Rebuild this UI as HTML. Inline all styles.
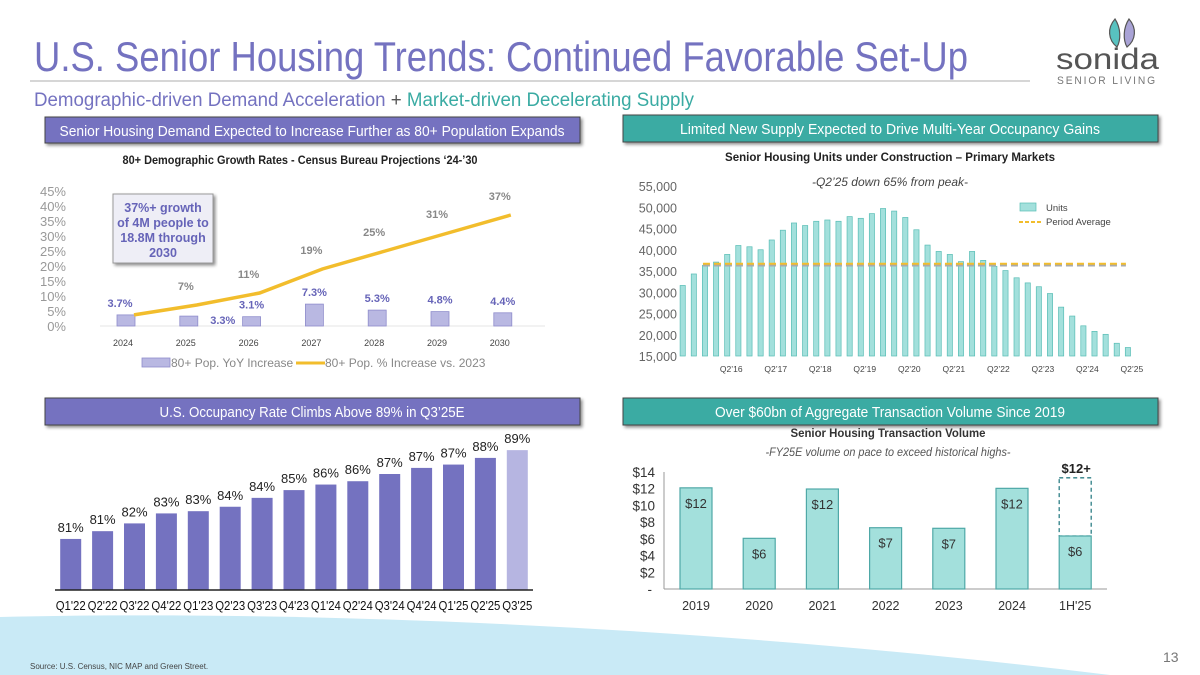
<!DOCTYPE html>
<html><head><meta charset="utf-8">
<style>
html,body{margin:0;padding:0;background:#fff;}
svg{display:block;font-family:"Liberation Sans",sans-serif;}
</style></head>
<body>
<svg id="s" width="1200" height="675" viewBox="0 0 1200 675" xmlns="http://www.w3.org/2000/svg">
<defs>
<filter id="sh" x="-5%" y="-20%" width="110%" height="160%"><feDropShadow dx="2" dy="2" stdDeviation="1.5" flood-color="#000" flood-opacity="0.45"/></filter>
</defs>
<path d="M0,617 C300,610 700,625 1110,675 L0,675 Z" fill="#c9eaf6"/>
<text x="34" y="71" font-size="42" fill="#7472c0" textLength="934" lengthAdjust="spacingAndGlyphs">U.S. Senior Housing Trends: Continued Favorable Set-Up</text>
<line x1="30" y1="81" x2="1030" y2="81" stroke="#c8c8c8" stroke-width="1.5"/>
<g>
<path d="M1115,19 C1107,28 1108,40 1117,47 C1121,40 1121,28 1115,19Z" fill="#58c2c0" stroke="#555" stroke-width="1.2"/>
<path d="M1129,19 C1137,28 1136,40 1127,47 C1123,40 1123,28 1129,19Z" fill="#a9a3d6" stroke="#555" stroke-width="1.2"/>
<text x="1056" y="69" font-size="30" fill="#555" textLength="103" lengthAdjust="spacingAndGlyphs">sonida</text>
<text x="1057" y="84" font-size="11" fill="#777" textLength="100" lengthAdjust="spacingAndGlyphs" letter-spacing="2">SENIOR LIVING</text>
</g>
<text x="34" y="106" font-size="19" textLength="660" lengthAdjust="spacingAndGlyphs"><tspan fill="#7472c0">Demographic-driven Demand Acceleration</tspan><tspan fill="#555"> + </tspan><tspan fill="#3aaba3">Market-driven Decelerating Supply</tspan></text>

<g filter="url(#sh)"><rect x="45" y="117" width="535" height="26" fill="#7472c0" stroke="#444" stroke-width="1"/></g>
<text x="312" y="136" font-size="14.5" fill="#fff" text-anchor="middle" textLength="505" lengthAdjust="spacingAndGlyphs">Senior Housing Demand Expected to Increase Further as 80+ Population Expands</text>
<g filter="url(#sh)"><rect x="623" y="115" width="535" height="27" fill="#3aaba3" stroke="#444" stroke-width="1"/></g>
<text x="890" y="134" font-size="14.5" fill="#fff" text-anchor="middle" textLength="420" lengthAdjust="spacingAndGlyphs">Limited New Supply Expected to Drive Multi-Year Occupancy Gains</text>
<g filter="url(#sh)"><rect x="45" y="398" width="535" height="27" fill="#7472c0" stroke="#444" stroke-width="1"/></g>
<text x="312" y="417" font-size="15" fill="#fff" text-anchor="middle" textLength="305" lengthAdjust="spacingAndGlyphs">U.S. Occupancy Rate Climbs Above 89% in Q3’25E</text>
<g filter="url(#sh)"><rect x="623" y="398" width="535" height="27" fill="#3aaba3" stroke="#444" stroke-width="1"/></g>
<text x="890" y="417" font-size="15" fill="#fff" text-anchor="middle" textLength="350" lengthAdjust="spacingAndGlyphs">Over $60bn of Aggregate Transaction Volume Since 2019</text>

<text x="300" y="164" font-size="12" font-weight="bold" fill="#222" text-anchor="middle" textLength="355" lengthAdjust="spacingAndGlyphs">80+ Demographic Growth Rates - Census Bureau Projections ‘24-’30</text>
<text x="890" y="161" font-size="12" font-weight="bold" fill="#222" text-anchor="middle" textLength="330" lengthAdjust="spacingAndGlyphs">Senior Housing Units under Construction – Primary Markets</text>
<text x="890" y="186" font-size="12" font-style="italic" fill="#444" text-anchor="middle">-Q2’25 down 65% from peak-</text>
<text x="888" y="437" font-size="12" font-weight="bold" fill="#333" text-anchor="middle" textLength="195" lengthAdjust="spacingAndGlyphs">Senior Housing Transaction Volume</text>
<text x="888" y="456" font-size="12" font-style="italic" fill="#555" text-anchor="middle" textLength="245" lengthAdjust="spacingAndGlyphs">-FY25E volume on pace to exceed historical highs-</text>

<g id="c1"></g><g id="c2"></g><g id="c3"></g><g id="c4"></g>

<g filter="url(#sh)"><rect x="113" y="194" width="100" height="69" fill="#eeeef6" stroke="#999" stroke-width="1"/></g>
<g font-size="12.5" font-weight="bold" fill="#6664b8" text-anchor="middle">
<text x="163" y="212">37%+ growth</text><text x="163" y="227">of 4M people to</text><text x="163" y="242">18.8M through</text><text x="163" y="257">2030</text></g>

<text x="30" y="669" font-size="8" fill="#444">Source: U.S. Census, NIC MAP and Green Street.</text>
<text x="1163" y="662" font-size="14" fill="#777">13</text>
</svg>
<script>
const NS="http://www.w3.org/2000/svg";
function mk(p,tag,a,txt){const e=document.createElementNS(NS,tag);for(const k in a)e.setAttribute(k,a[k]);if(txt!==undefined)e.textContent=txt;p.appendChild(e);return e;}

// Chart 1: demographic
const demoYears=["2024","2025","2026","2027","2028","2029","2030"];
const demoYoY=[3.7,3.3,3.1,7.3,5.3,4.8,4.4];
const demoCum=[3.7,7,11,19,25,31,37];
const demoYoYLabels=["3.7%","3.3%","3.1%","7.3%","5.3%","4.8%","4.4%"];
const demoCumLabels=["","7%","11%","19%","25%","31%","37%"];
const demoTicks=[0,5,10,15,20,25,30,35,40,45];
// Chart 2: units
const unitQuarters=["Q2'15","Q3'15","Q4'15","Q1'16","Q2'16","Q3'16","Q4'16","Q1'17","Q2'17","Q3'17","Q4'17","Q1'18","Q2'18","Q3'18","Q4'18","Q1'19","Q2'19","Q3'19","Q4'19","Q1'20","Q2'20","Q3'20","Q4'20","Q1'21","Q2'21","Q3'21","Q4'21","Q1'22","Q2'22","Q3'22","Q4'22","Q1'23","Q2'23","Q3'23","Q4'23","Q1'24","Q2'24","Q3'24","Q4'24","Q1'25","Q2'25"];
const unitValues=[31600,34300,36300,37100,38900,41000,40700,40000,42300,44600,46300,45700,46700,47000,46700,47800,47400,48500,49700,49100,47600,44700,41100,39600,38900,37200,39600,37500,36100,35100,33400,32200,31300,29700,26500,24400,22100,20800,20100,18000,17000];
const unitAverage=[36700];
const unitTicks=[15000,20000,25000,30000,35000,40000,45000,50000,55000];
const unitTickLabels=["Q2'16","Q2'17","Q2'18","Q2'19","Q2'20","Q2'21","Q2'22","Q2'23","Q2'24","Q2'25"];
// Chart 3: occupancy
const occQuarters=["Q1'22","Q2'22","Q3'22","Q4'22","Q1'23","Q2'23","Q3'23","Q4'23","Q1'24","Q2'24","Q3'24","Q4'24","Q1'25","Q2'25","Q3'25"];
const occValues=[81.0,81.7,82.4,83.3,83.5,83.9,84.7,85.4,85.9,86.2,86.85,87.4,87.7,88.3,89.0];
const occLabels=["81%","81%","82%","83%","83%","84%","84%","85%","86%","86%","87%","87%","87%","88%","89%"];
// Chart 4: transactions
const txYears=["2019","2020","2021","2022","2023","2024","1H'25"];
const txValues=[12.1,6.06,11.96,7.33,7.26,12.04,6.34];
const txLabels=["$12","$6","$12","$7","$7","$12","$6"];
const txEstimate=[13.3];
const txTicks=[0,2,4,6,8,10,12,14];

// ---- chart 1
(function(){
 const g=document.getElementById('c1');
 const y=v=>326-v*3, x=i=>126+i*62.8;
 demoTicks.forEach(t=>{const e=mk(g,'text',{x:66,y:y(t)+5,'font-size':13,fill:'#999','text-anchor':'end'},t+'%');
 
 });
 mk(g,'line',{x1:100,y1:326,x2:545,y2:326,stroke:'#e4e4e4'});
 demoYoY.forEach((v,i)=>{const r=mk(g,'rect',{x:x(i)-9,y:y(v),width:18,height:v*3,fill:'#b9b8e2',stroke:'#8f8dcc','stroke-width':0.8});
 
 
 const l=mk(g,'text',{x:i===1?x(i)+34:x(i)+(i==0?-6:0),y:i===1?y(v)+8:y(v)-8,'font-size':11,'font-weight':'bold',fill:'#6664b8','text-anchor':'middle'},demoYoYLabels[i]);
 
 
 const xl=mk(g,'text',{x:x(i)-3,y:346,'font-size':9,fill:'#444','text-anchor':'middle'},demoYears[i]);
 
 });
 const pts=demoCum.map((v,i)=>(x(i)+8)+','+y(v)).join(' ');
 const pl=mk(g,'polyline',{points:pts,fill:'none',stroke:'#f2bd2c','stroke-width':3.5});
 
 
 demoCum.forEach((v,i)=>{if(!demoCumLabels[i])return;const t=mk(g,'text',{x:x(i)-3,y:y(v)-15,'font-size':11,'font-weight':'bold',fill:'#888','text-anchor':'middle'},demoCumLabels[i]);
 
 });
 const ls=mk(g,'rect',{x:142,y:358,width:28,height:9,fill:'#b9b8e2',stroke:'#8f8dcc','stroke-width':0.8});
 
 
 const lt=mk(g,'text',{x:171,y:367,'font-size':12,fill:'#888'},'80+ Pop. YoY Increase');
 
 
 const ll=mk(g,'line',{x1:296,y1:363,x2:325,y2:363,stroke:'#f2bd2c','stroke-width':3});
 
 
 const lt2=mk(g,'text',{x:325,y:367,'font-size':12,fill:'#888'},'80+ Pop. % Increase vs. 2023');
 
 
})();

// ---- chart 2
(function(){
 const g=document.getElementById('c2');
 const y=v=>356-(v-15000)*170/40000, x=i=>682.7+i*11.13;
 unitTicks.forEach(t=>{const e=mk(g,'text',{x:677,y:y(t)+5,'font-size':12.5,fill:'#666','text-anchor':'end'},t.toLocaleString('en-US'));
 
 });
 unitValues.forEach((v,i)=>{const r=mk(g,'rect',{x:x(i)-2.6,y:y(v),width:5.2,height:356-y(v),fill:'#a3e0dc',stroke:'#58bdb5','stroke-width':0.7});
 
 });
 const ay=y(unitAverage[0]);
 const a1=mk(g,'line',{x1:x(2)-2,y1:ay+1.5,x2:x(40)-2,y2:ay+1.5,stroke:'#aaa','stroke-width':2.5,'stroke-dasharray':'7,4'});
 
 
 const a2=mk(g,'line',{x1:x(2)-2,y1:ay,x2:x(40)-2,y2:ay,stroke:'#f2bd2c','stroke-width':2,'stroke-dasharray':'7,4'});
 
 
 unitTickLabels.forEach((l,k)=>{const i=unitQuarters.indexOf(l);const t=mk(g,'text',{x:x(i)+4,y:372,'font-size':8.5,fill:'#444','text-anchor':'middle'},l.replace("'","’"));
 
 });
 const ls=mk(g,'rect',{x:1020,y:203,width:16,height:8,fill:'#a3e0dc',stroke:'#58bdb5','stroke-width':0.7});
 
 
 const lt=mk(g,'text',{x:1046,y:211,'font-size':9.5,fill:'#444'},'Units');
 
 
 const ld=mk(g,'line',{x1:1019,y1:222,x2:1041,y2:222,stroke:'#f2bd2c','stroke-width':2,'stroke-dasharray':'4,2'});
 
 
 const lt2=mk(g,'text',{x:1046,y:225,'font-size':9.5,fill:'#444'},'Period Average');
 
 
})();

// ---- chart 3
(function(){
 const g=document.getElementById('c3');
 const base=590, y=v=>base-(v-76.4)*11.1, x=i=>70.7+i*31.9;
 occValues.forEach((v,i)=>{const last=i===occValues.length-1;
 const r=mk(g,'rect',{x:x(i)-10.5,y:y(v),width:21,height:base-y(v),fill:last?'#b6b5e1':'#7472c0'});
 
 
 const t=mk(g,'text',{x:x(i),y:y(v)-7,'font-size':13,fill:'#222','text-anchor':'middle'},occLabels[i]);
 
 
 const xl=mk(g,'text',{x:x(i),y:610,'font-size':12.5,fill:'#111','text-anchor':'middle',textLength:30,lengthAdjust:'spacingAndGlyphs'},occQuarters[i]);
 
 });
 const b=mk(g,'line',{x1:55,y1:base,x2:533,y2:base,stroke:'#222','stroke-width':1.5});
 
 
})();

// ---- chart 4
(function(){
 const g=document.getElementById('c4');
 const base=589, k=8.36, y=v=>base-v*k, x=i=>696+i*63.2;
 txTicks.forEach(t=>{const e=mk(g,'text',{x:t===0?652:655,y:y(t)+5,'font-size':13.5,fill:'#333','text-anchor':'end'},t===0?'-':'$'+t);
 
 });
 mk(g,'line',{x1:664,y1:472,x2:664,y2:base,stroke:'#999'});
 mk(g,'line',{x1:664,y1:base,x2:1107,y2:base,stroke:'#999'});
 const ei=txValues.length-1;
 const d=mk(g,'rect',{x:x(ei)-16,y:y(txEstimate[0]),width:32,height:(txEstimate[0]-txValues[ei])*k,fill:'none',stroke:'#2e7f86','stroke-width':1.3,'stroke-dasharray':'4,3'});
 
 
 const et=mk(g,'text',{x:x(ei)+1,y:y(txEstimate[0])-5,'font-size':13,'font-weight':'bold',fill:'#222','text-anchor':'middle'},'$12+');
 
 
 txValues.forEach((v,i)=>{const r=mk(g,'rect',{x:x(i)-16,y:y(v),width:32,height:v*k,fill:'#a3e0dc',stroke:'#4fa8a7','stroke-width':1.2});
 
 
 const t=mk(g,'text',{x:x(i),y:y(v)+20,'font-size':13,fill:'#333','text-anchor':'middle'},txLabels[i]);
 
 
 const xl=mk(g,'text',{x:x(i),y:610,'font-size':12.5,fill:'#333','text-anchor':'middle'},txYears[i]);
 
 });
})();
</script>
</body></html>
